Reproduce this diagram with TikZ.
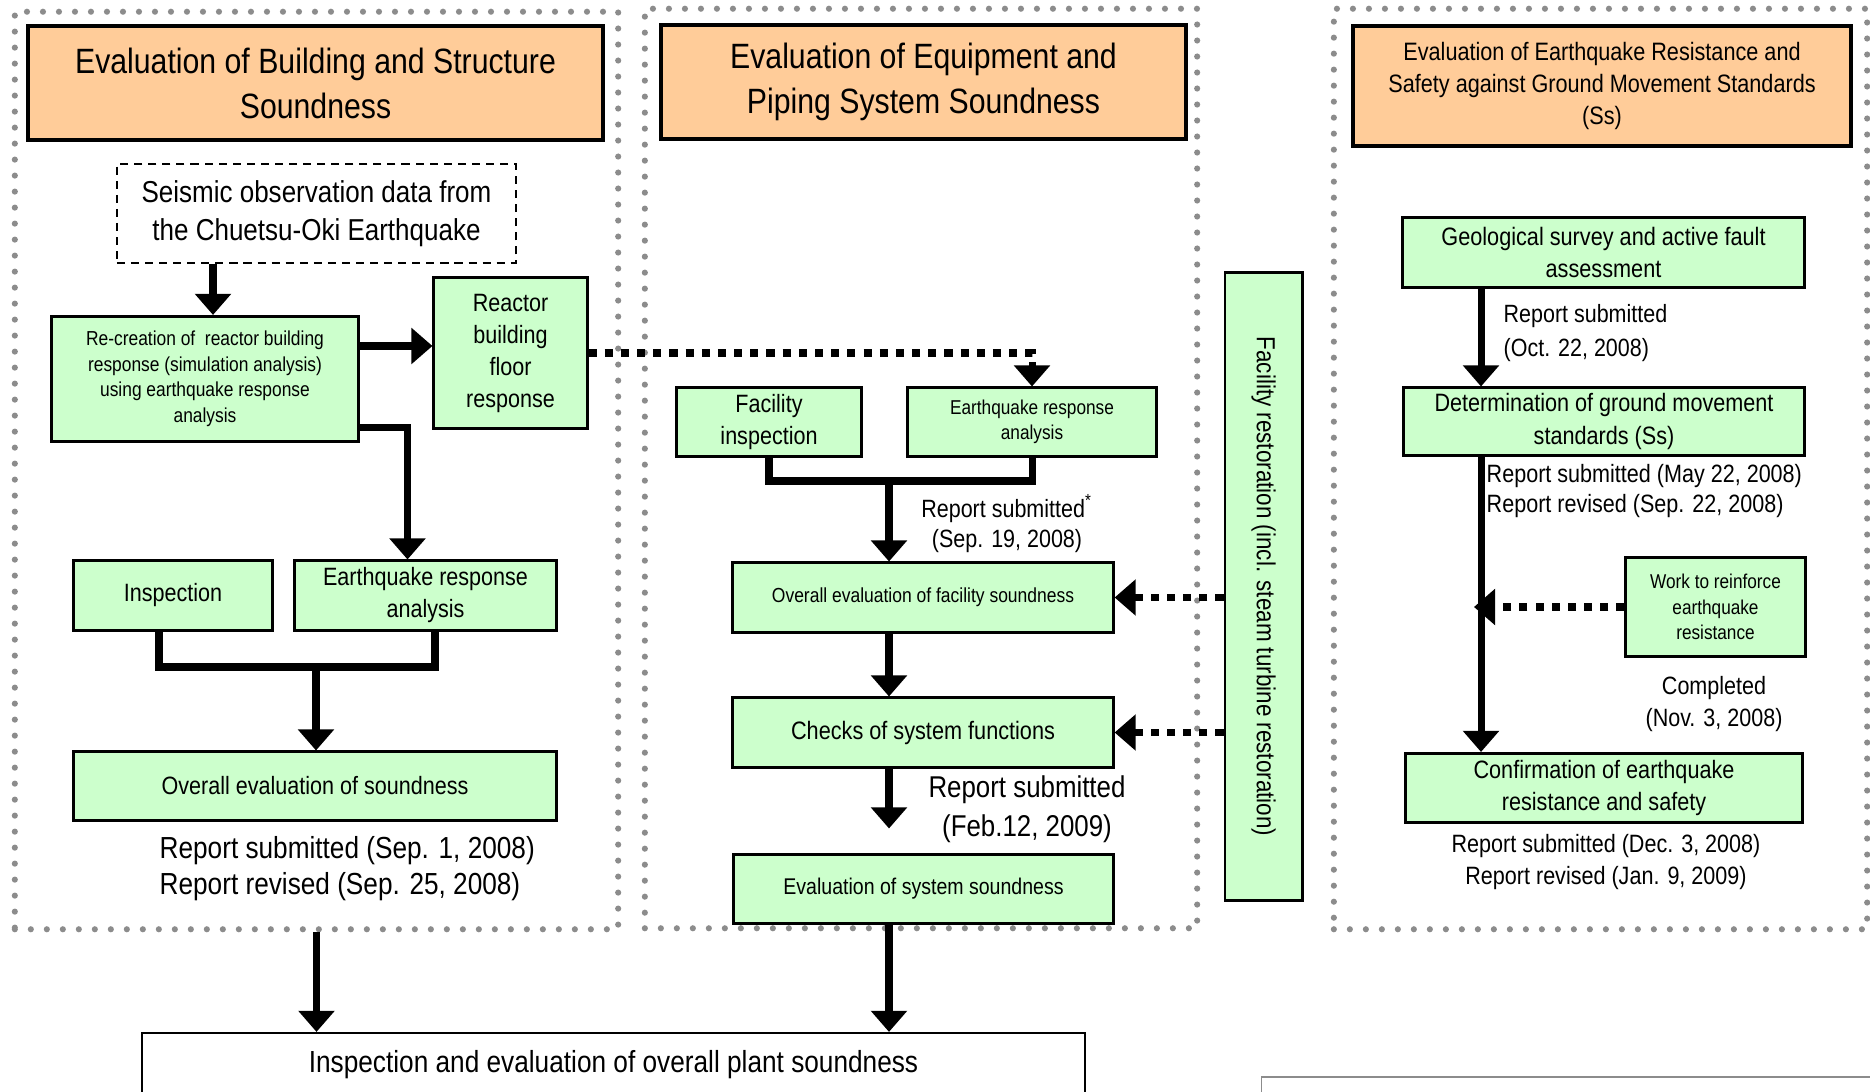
\documentclass[tikz,border=0pt]{standalone}
\usepackage{fontspec}
\setmainfont{Liberation Sans}[FakeStretch=0.86]
\usepackage{tikz}
\usetikzlibrary{arrows.meta,calc}
\definecolor{boxgreen}{HTML}{CCFFCC}
\definecolor{headorange}{HTML}{FFCC99}
\definecolor{dotgray}{HTML}{8C8C8C}
\newcommand{\fsz}[2]{\fontsize{#1}{#2}\selectfont}

\begin{document}
\begin{tikzpicture}[
    x=0.01cm, y=-0.01cm,
    panel/.style={rectangle, draw=dotgray, line width=1.75pt, dash pattern=on 0pt off 4.55pt, line cap=round, inner sep=0pt},
    header/.style={rectangle, draw=black, line width=1.3pt, fill=headorange, align=center, inner sep=0pt, font=\fsz{10}{12.8}},
    block/.style={rectangle, draw=black, line width=0.85pt, fill=boxgreen, align=center, inner sep=0pt, font=\fsz{7.13}{9.1}},
    source/.style={rectangle, draw=black, line width=0.6pt, dash pattern=on 2.3pt off 1.7pt, align=center, inner sep=0pt},
    arrow/.style={-{Triangle[width=10pt,length=6pt]}, line width=2pt},
    feed/.style={arrow, dash pattern=on 2.3pt off 2.3pt},
    link/.style={line width=2pt},
    note/.style={inner sep=0pt, align=left}
]
\useasboundingbox (0,0) rectangle (1870,1092);

\node[panel, minimum width=6.03cm, minimum height=9.17cm] (bldgPanel) at (316.5,470.5) {};
\node[panel, minimum width=5.52cm, minimum height=9.19cm] (equipPanel) at (921,468.5) {};
\node[panel, minimum width=5.33cm, minimum height=9.20cm] (seisPanel) at (1600.5,469) {};

\node[header, minimum width=5.75cm, minimum height=1.14cm] (bldgHead) at (315.5,83) {Evaluation of Building and Structure\\Soundness};
\node[header, minimum width=5.25cm, minimum height=1.14cm] (equipHead) at (923.5,82) {Evaluation of Equipment and\\Piping System Soundness};
\node[header, minimum width=4.98cm, minimum height=1.20cm, font=\fsz{7.16}{9.1}] (seisHead) at (1602,86) {Evaluation of Earthquake Resistance and\\Safety against Ground Movement Standards\\(Ss)};

\node[source, minimum width=3.99cm, minimum height=0.99cm, font=\fsz{8.6}{10.8}] (seismic) at (316.5,213.5) {Seismic observation data from\\the Chuetsu-Oki Earthquake};
\node[block, minimum width=3.06cm, minimum height=1.25cm, font=\fsz{5.75}{7.25}] (recre) at (205,379) {Re-creation of\ \ reactor building\\response (simulation analysis)\\using earthquake response\\analysis};
\node[block, minimum width=1.53cm, minimum height=1.50cm] (floorResp) at (510.5,353) {Reactor\\building\\floor\\response};
\node[block, minimum width=1.98cm, minimum height=0.69cm] (inspect) at (173,595.5) {Inspection};
\node[block, minimum width=2.61cm, minimum height=0.69cm] (eqBldg) at (425.5,595.5) {Earthquake response\\analysis};
\node[block, minimum width=4.82cm, minimum height=0.68cm] (overallBldg) at (315,786) {Overall evaluation of soundness};
\node[note, anchor=base west, font=\fsz{8.66}{10.5}] (bldgReport) at (159,895) {Report submitted (Sep. 1, 2008)\\Report revised (Sep. 25, 2008)};

\node[block, minimum width=1.84cm, minimum height=0.68cm] (facInspect) at (769,422) {Facility\\inspection};
\node[block, minimum width=2.48cm, minimum height=0.68cm, font=\fsz{5.7}{7.25}] (eqEquip) at (1032,422) {Earthquake response\\analysis};
\node[block, minimum width=3.80cm, minimum height=0.69cm, font=\fsz{5.78}{7.25}] (overallFac) at (923,597.5) {Overall evaluation of facility soundness};
\node[block, minimum width=3.80cm, minimum height=0.69cm, font=\fsz{7.17}{9.1}] (checks) at (923,732.5) {Checks of system functions};
\node[block, minimum width=3.79cm, minimum height=0.68cm, font=\fsz{6.46}{8}] (evalSys) at (923.5,889) {Evaluation of system soundness};
\node[note, align=center, anchor=base, font=\fsz{7.11}{8.8}] (facReport) at (1007,548) {Report submitted\textsuperscript{*}\\(Sep. 19, 2008)};
\node[note, align=center, anchor=base, font=\fsz{8.55}{11.1}] (sysReport) at (1027,837) {Report submitted\\(Feb.12, 2009)};
\node[block, minimum width=0.77cm, minimum height=6.27cm, font=\fsz{7.42}{9}] (restore) at (1263.5,586.5) {\rotatebox{-90}{Facility restoration (incl. steam turbine restoration)}};

\node[block, minimum width=4.01cm, minimum height=0.69cm, font=\fsz{7.17}{9.1}] (geo) at (1603.5,252.5) {Geological survey and active fault\\assessment};
\node[block, minimum width=4.00cm, minimum height=0.67cm, font=\fsz{7.15}{9.1}] (groundStd) at (1604,421.5) {Determination of ground movement\\standards (Ss)};
\node[block, minimum width=1.79cm, minimum height=0.99cm, font=\fsz{5.69}{7.25}] (reinforce) at (1715.5,607) {Work to reinforce\\earthquake\\resistance};
\node[block, minimum width=3.96cm, minimum height=0.69cm, font=\fsz{7.15}{9.1}] (confirm) at (1604,788) {Confirmation of earthquake\\resistance and safety};
\node[note, anchor=base west, font=\fsz{7.1}{9.7}] (geoReport) at (1503,357) {Report submitted\\(Oct. 22, 2008)};
\node[note, anchor=base west, font=\fsz{7.13}{8.8}] (stdReport) at (1486,513) {Report submitted (May 22, 2008)\\Report revised (Sep. 22, 2008)};
\node[note, align=center, anchor=base, font=\fsz{7.12}{9.1}] (workDone) at (1714,727) {Completed\\(Nov. 3, 2008)};
\node[note, align=center, anchor=base, font=\fsz{7.13}{9.1}] (confReport) at (1606,885) {Report submitted (Dec. 3, 2008)\\Report revised (Jan. 9, 2009)};

\node[rectangle, draw=black, line width=0.6pt, minimum width=9.43cm, minimum height=0.64cm, inner sep=0pt, font=\fsz{8.67}{10}] (plant) at (613.5,1065) {Inspection and evaluation of overall plant soundness};
\node[rectangle, draw=dotgray, line width=0.3pt, minimum width=6.30cm, minimum height=0.40cm, inner sep=0pt] (nextBox) at (1577,1097) {};

\coordinate (seisDrop) at ($(recre.north)+(8,0)$);
\coordinate (floorIn) at ($(floorResp.west)+(0,-7)$);
\coordinate (bldgJoin) at (316,667);
\coordinate (equipJoin) at (889,481);
\coordinate (seisAxis) at (1481,0);

\draw[arrow] (seisDrop |- seismic.south) -- (seisDrop);
\draw[arrow] (floorIn -| recre.east) -- (floorIn);
\draw[arrow] ($(recre.south east)+(0,-16)$) -| ($(eqBldg.north)+(-18,0)$);
\draw[feed] (floorResp.east) -| (eqEquip.north);
\draw[link] ($(inspect.south)+(-14,0)$) |- (bldgJoin) -| ($(eqBldg.south)+(9.5,0)$);
\draw[arrow] (bldgJoin) -- (bldgJoin |- overallBldg.north);

\draw[link] (facInspect.south) |- (equipJoin) -| (eqEquip.south);
\draw[arrow] (equipJoin) -- (equipJoin |- overallFac.north);
\draw[arrow] (overallFac.south -| equipJoin) -- (checks.north -| equipJoin);
\draw[arrow, shorten >=0.25cm] (checks.south -| equipJoin) -- (evalSys.north -| equipJoin);
\draw[feed] (restore.west |- overallFac.east) -- (overallFac.east);
\draw[feed] (restore.west |- checks.east) -- (checks.east);

\draw[arrow] (geo.south -| seisAxis) -- (groundStd.north -| seisAxis);
\draw[arrow] (groundStd.south -| seisAxis) -- (confirm.north -| seisAxis);
\draw[feed, shorten >=-2pt] (reinforce.west) -- (reinforce.west -| seisAxis);

\draw[arrow] (bldgPanel.south) -- (bldgPanel.south |- plant.north);
\draw[arrow] (evalSys.south -| equipJoin) -- (plant.north -| equipJoin);

\end{tikzpicture}
\end{document}
